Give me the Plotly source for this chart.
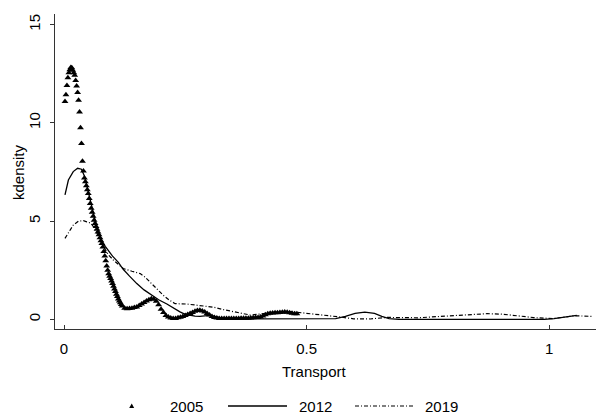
import plotly.graph_objects as go

# ---- data ----
x2005 = [0.002, 0.004, 0.006, 0.008, 0.010, 0.012, 0.014, 0.016, 0.018, 0.020,
         0.022, 0.024, 0.026, 0.028, 0.030, 0.032, 0.034, 0.036, 0.038, 0.040,
         0.042, 0.044, 0.046, 0.048, 0.050, 0.052, 0.054, 0.056, 0.058, 0.060,
         0.062, 0.064, 0.066, 0.068, 0.070, 0.072, 0.074, 0.076, 0.078, 0.080,
         0.082, 0.084, 0.086, 0.088, 0.090, 0.092, 0.094, 0.096, 0.098, 0.100,
         0.102, 0.104, 0.106, 0.108, 0.110, 0.112, 0.114, 0.116, 0.118, 0.120,
         0.125, 0.130, 0.135, 0.140, 0.145, 0.150, 0.155, 0.160, 0.165, 0.170,
         0.175, 0.180, 0.185, 0.190, 0.195, 0.200, 0.205, 0.210, 0.215, 0.220,
         0.225, 0.230, 0.235, 0.240, 0.245, 0.250, 0.255, 0.260, 0.265, 0.270,
         0.275, 0.280, 0.285, 0.290, 0.295, 0.300, 0.305, 0.310, 0.315, 0.320,
         0.325, 0.330, 0.335, 0.340, 0.345, 0.350, 0.355, 0.360, 0.365, 0.370,
         0.375, 0.380, 0.385, 0.390, 0.395, 0.400, 0.405, 0.410, 0.415, 0.420,
         0.425, 0.430, 0.435, 0.440, 0.445, 0.450, 0.455, 0.460, 0.465, 0.470,
         0.475, 0.480]
y2005 = [11.09, 11.43, 11.90, 12.30, 12.55, 12.70, 12.82, 12.80, 12.68, 12.55,
         12.42, 12.15, 11.88, 11.55, 11.15, 10.55, 9.75, 8.95, 8.05, 7.55,
         7.20, 7.00, 6.80, 6.60, 6.40, 6.15, 5.90, 5.65, 5.45, 5.25,
         5.05, 4.88, 4.72, 4.58, 4.44, 4.30, 4.15, 4.00, 3.86, 3.68,
         3.46, 3.22, 2.98, 2.72, 2.50, 2.32, 2.20, 2.08, 1.95, 1.82,
         1.68, 1.55, 1.42, 1.28, 1.16, 1.04, 0.93, 0.84, 0.76, 0.68,
         0.57, 0.54, 0.55, 0.57, 0.60, 0.63, 0.70, 0.78, 0.86, 0.93,
         1.00, 1.05, 1.03, 0.92, 0.75, 0.52, 0.35, 0.20, 0.12, 0.07,
         0.04, 0.05, 0.08, 0.11, 0.15, 0.20, 0.25, 0.30, 0.35, 0.41,
         0.45, 0.46, 0.43, 0.38, 0.30, 0.22, 0.15, 0.10, 0.07, 0.05,
         0.05, 0.05, 0.05, 0.05, 0.05, 0.05, 0.05, 0.05, 0.06, 0.06,
         0.06, 0.06, 0.07, 0.08, 0.09, 0.10, 0.12, 0.17, 0.23, 0.28,
         0.31, 0.33, 0.34, 0.34, 0.35, 0.36, 0.37, 0.36, 0.34, 0.31,
         0.29, 0.28]

x2012 = [0.002, 0.009, 0.019, 0.028, 0.036, 0.042, 0.047, 0.055, 0.064, 0.071,
         0.078, 0.085, 0.091, 0.100, 0.112, 0.122, 0.135, 0.150, 0.165, 0.181,
         0.195, 0.212, 0.225, 0.239, 0.250, 0.260, 0.270, 0.280, 0.290, 0.300,
         0.310, 0.320, 0.330, 0.350, 0.400, 0.450, 0.500, 0.540, 0.560, 0.580,
         0.600, 0.620, 0.640, 0.655, 0.670, 0.690, 0.800, 0.900, 0.990, 1.010,
         1.025, 1.040, 1.057]
y2012 = [6.33, 7.09, 7.52, 7.69, 7.64, 7.30, 6.80, 5.95, 5.05, 4.45,
         4.00, 3.72, 3.50, 3.22, 2.90, 2.55, 2.20, 1.82, 1.50, 1.22,
         1.00, 0.78, 0.58, 0.38, 0.26, 0.20, 0.17, 0.15, 0.18, 0.20,
         0.15, 0.08, 0.04, 0.02, 0.02, 0.02, 0.02, 0.02, 0.04, 0.15,
         0.30, 0.37, 0.30, 0.15, 0.04, 0.00, 0.00, 0.00, 0.00, 0.04,
         0.10, 0.16, 0.20]

x2019 = [0.002, 0.010, 0.019, 0.030, 0.040, 0.047, 0.055, 0.064, 0.071, 0.078,
         0.085, 0.091, 0.102, 0.112, 0.122, 0.140, 0.157, 0.167, 0.177, 0.191,
         0.205, 0.217, 0.229, 0.253, 0.274, 0.301, 0.308, 0.328, 0.356, 0.384,
         0.411, 0.439, 0.466, 0.493, 0.521, 0.545, 0.569, 0.597, 0.631, 0.665,
         0.700, 0.730, 0.755, 0.803, 0.837, 0.872, 0.906, 0.940, 0.968, 1.009,
         1.030, 1.050, 1.070, 1.091]
y2019 = [4.12, 4.45, 4.80, 5.00, 5.02, 4.96, 4.90, 4.60, 4.20, 3.85,
         3.55, 3.30, 3.01, 2.80, 2.59, 2.45, 2.33, 2.15, 1.90, 1.57,
         1.22, 0.98, 0.80, 0.78, 0.71, 0.63, 0.62, 0.50, 0.37, 0.22,
         0.29, 0.37, 0.40, 0.33, 0.27, 0.18, 0.12, 0.03, 0.02, 0.10,
         0.08, 0.08, 0.12, 0.20, 0.26, 0.29, 0.26, 0.15, 0.09, 0.04,
         0.12, 0.18, 0.17, 0.15]

series_names = ["2005", "2012", "2019"]
x_tickvals = [0, 0.5, 1]
x_ticktext = ["0", "0.5", "1"]
y_tickvals = [0, 5, 10, 15]
y_ticktext = ["0", "5", "10", "15"]

FONT = "Liberation Sans, Arial, sans-serif"

fig = go.Figure()
fig.add_trace(go.Scatter(x=x2019, y=y2019, mode="lines", name=series_names[2],
                         line=dict(color="black", width=1.2, dash="4px,2px,1px,2px"),
                         showlegend=False))
fig.add_trace(go.Scatter(x=x2012, y=y2012, mode="lines", name=series_names[1],
                         line=dict(color="black", width=1.3), showlegend=False))
fig.add_trace(go.Scatter(x=x2005, y=y2005, mode="markers", name=series_names[0],
                         marker=dict(symbol="triangle-up", size=6, color="black",
                                     line=dict(width=0)),
                         showlegend=False))

# manual legend (paper coordinates; page pixels -> paper)
def px2paper_x(px):
    return (px - 55) / 548.0

def py2paper_y(py):
    return (329 - py) / 315.0

shapes = []
tx, ty = 131.7, 406
shapes.append(dict(type="path", xref="paper", yref="paper",
                   path="M {a} {b} L {c} {b} L {d} {e} Z".format(
                       a=px2paper_x(tx - 2.5), b=py2paper_y(ty + 2),
                       c=px2paper_x(tx + 2.5), d=px2paper_x(tx), e=py2paper_y(ty - 2.5)),
                   fillcolor="black", line=dict(width=0)))
shapes.append(dict(type="line", xref="paper", yref="paper",
                   x0=px2paper_x(228), x1=px2paper_x(287), y0=py2paper_y(406), y1=py2paper_y(406),
                   line=dict(color="black", width=1.3)))
shapes.append(dict(type="line", xref="paper", yref="paper",
                   x0=px2paper_x(355), x1=px2paper_x(415), y0=py2paper_y(406), y1=py2paper_y(406),
                   line=dict(color="black", width=1.2, dash="4px,2px,1px,2px")))

annotations = []
for label, cx in zip(series_names, [186.5, 315, 441.5]):
    annotations.append(dict(text=label, x=px2paper_x(cx), y=py2paper_y(406),
                            xref="paper", yref="paper", showarrow=False,
                            xanchor="center", yanchor="middle",
                            font=dict(family=FONT, size=15, color="black")))
annotations.append(dict(text="Transport", x=px2paper_x(313.5), y=py2paper_y(371),
                        xref="paper", yref="paper", showarrow=False,
                        xanchor="center", yanchor="middle",
                        font=dict(family=FONT, size=15, color="black")))
annotations.append(dict(text="kdensity", x=px2paper_x(18), y=py2paper_y(172),
                        xref="paper", yref="paper", showarrow=False, textangle=-90,
                        xanchor="center", yanchor="middle",
                        font=dict(family=FONT, size=15, color="black")))

# the page body has an 8px margin, so the figure is 8px smaller than the window
fig.update_layout(
    width=596, height=407,
    margin=dict(l=47, r=1, t=6, b=86),
    paper_bgcolor="white", plot_bgcolor="white",
    font=dict(family=FONT, size=15, color="black"),
    shapes=shapes, annotations=annotations,
    showlegend=False,
)
fig.update_xaxes(range=[-0.0186, 1.111], tickvals=x_tickvals, ticktext=x_ticktext,
                 showline=True, linecolor="#333", linewidth=1, showgrid=False,
                 zeroline=False, ticks="inside", ticklen=4, tickcolor="#333",
                 ticklabelstandoff=6, tickfont=dict(size=15))
fig.update_yaxes(range=[-0.49, 15.54], tickvals=y_tickvals, ticktext=y_ticktext,
                 showline=True, linecolor="#333", linewidth=1, showgrid=False,
                 zeroline=False, ticks="outside", ticklen=4, tickcolor="#333",
                 tickangle=-90, ticklabelstandoff=4, tickfont=dict(size=15))

fig.write_html("out.html")
